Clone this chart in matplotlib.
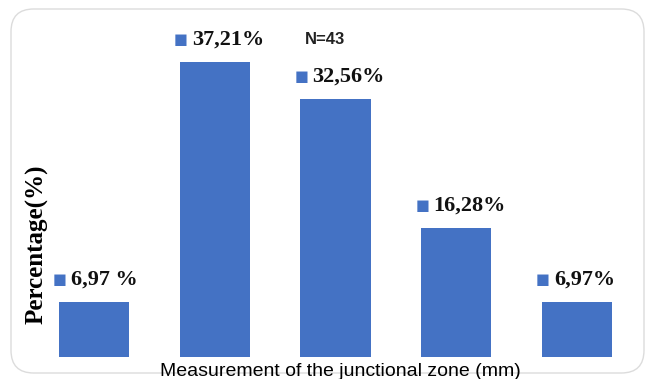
import matplotlib.pyplot as plt
from matplotlib.patches import FancyBboxPatch

# 各区間の割合 (%)
categories = ["1", "2", "3", "4", "5"]
values = [6.97, 37.21, 32.56, 16.28, 6.97]
labels = ["6,97 %", "37,21%", "32,56%", "16,28%", "6,97%"]

BLUE = "#4472C4"
W, H, DPI = 649, 379, 100

fig = plt.figure(figsize=(W / DPI, H / DPI), dpi=DPI)

# 外枠 (角丸)
frame = FancyBboxPatch(
    (11 / W, 6 / H), 633 / W, 364 / H,
    boxstyle="round,pad=0,rounding_size=0.035",
    transform=fig.transFigure, facecolor="none", edgecolor="#dcdcdc",
    linewidth=1.0, mutation_aspect=W / H, zorder=-1,
)
fig.patches.append(frame)

# 棒グラフ領域 (ピクセル単位で配置)
left, right, bottom, top = 33.6, 637.4, 357, 20
ax = fig.add_axes([left / W, (H - bottom) / H, (right - left) / W, (bottom - top) / H])
ax.set_xlim(-0.5, 4.5)
ax.set_ylim(0, (bottom - top) / 7.93)
ax.axis("off")

x = range(len(values))
bw = 0.58
ax.bar(x, values, width=bw, color=BLUE)

# 値ラベル (四角マーカー + 太字)
for i, (v, lab) in enumerate(zip(values, labels)):
    ax.annotate("■", (i - bw / 2, v), xytext=(1, 22), textcoords="offset pixels",
                ha="center", va="center", color=BLUE, fontsize=10.5,
                family="DejaVu Sans")
    ax.annotate(lab, (i - bw / 2, v), xytext=(12, 22), textcoords="offset pixels",
                ha="left", va="center", color="#111111", fontsize=16,
                fontweight="bold", family="Liberation Serif")

fig.text(325 / W, 1 - 40 / H, "N=43", ha="center", va="center", fontsize=12,
         fontweight="bold", family="Liberation Sans", color="#222222")

fig.text(37 / W, 1 - 244 / H, "Percentage(%)", rotation=90, ha="center",
         va="center", fontsize=18, fontweight="bold", family="Liberation Serif")

fig.text(340 / W, 1 - 372 / H, "Measurement of the junctional zone (mm)",
         ha="center", va="center", fontsize=14, family="Liberation Sans",
         color="black")

fig.savefig("out.png", dpi=DPI)
